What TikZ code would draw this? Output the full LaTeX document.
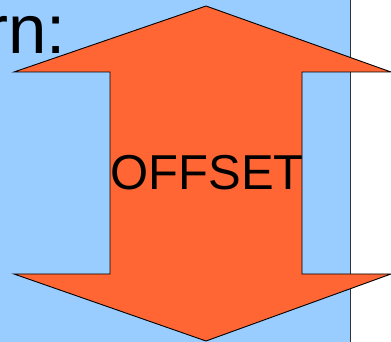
\documentclass[tikz,border=0pt]{standalone}
\usepackage{fontspec}
\setmainfont{Liberation Sans}
\definecolor{bgblue}{HTML}{99CCFF}
\definecolor{arrorange}{HTML}{FF6633}
\definecolor{divline}{HTML}{333333}
\begin{document}
\begin{tikzpicture}[x=1pt,y=1pt,
  arrowshape/.style={fill=arrorange,draw=black,line width=0.9pt,line join=miter},
  bigtext/.style={inner sep=0pt,font=\fontsize{69}{69}\selectfont},
  midtext/.style={inner sep=0pt,font=\fontsize{49}{49}\selectfont}]
\useasboundingbox (0,0) rectangle (391,342);
\begin{scope}
\clip (0,0) rectangle (391,342);
\fill[white] (0,0) rectangle (391,342);
\fill[bgblue] (0,0) rectangle (350,342);
\draw[divline,line width=1pt] (350.5,0) -- (350.5,342);
\node[bigtext,anchor=base east] (title) at (66,288) {rn:};
\draw[arrowshape] (206,336) -- (391,270) -- (302,270) -- (302,68) -- (391,68)
  -- (206,1) -- (14,68) -- (110,68) -- (110,270) -- (14,270) -- cycle;
\node[midtext] (offset) at (207,169) {OFFSET};
\end{scope}
\end{tikzpicture}
\end{document}
